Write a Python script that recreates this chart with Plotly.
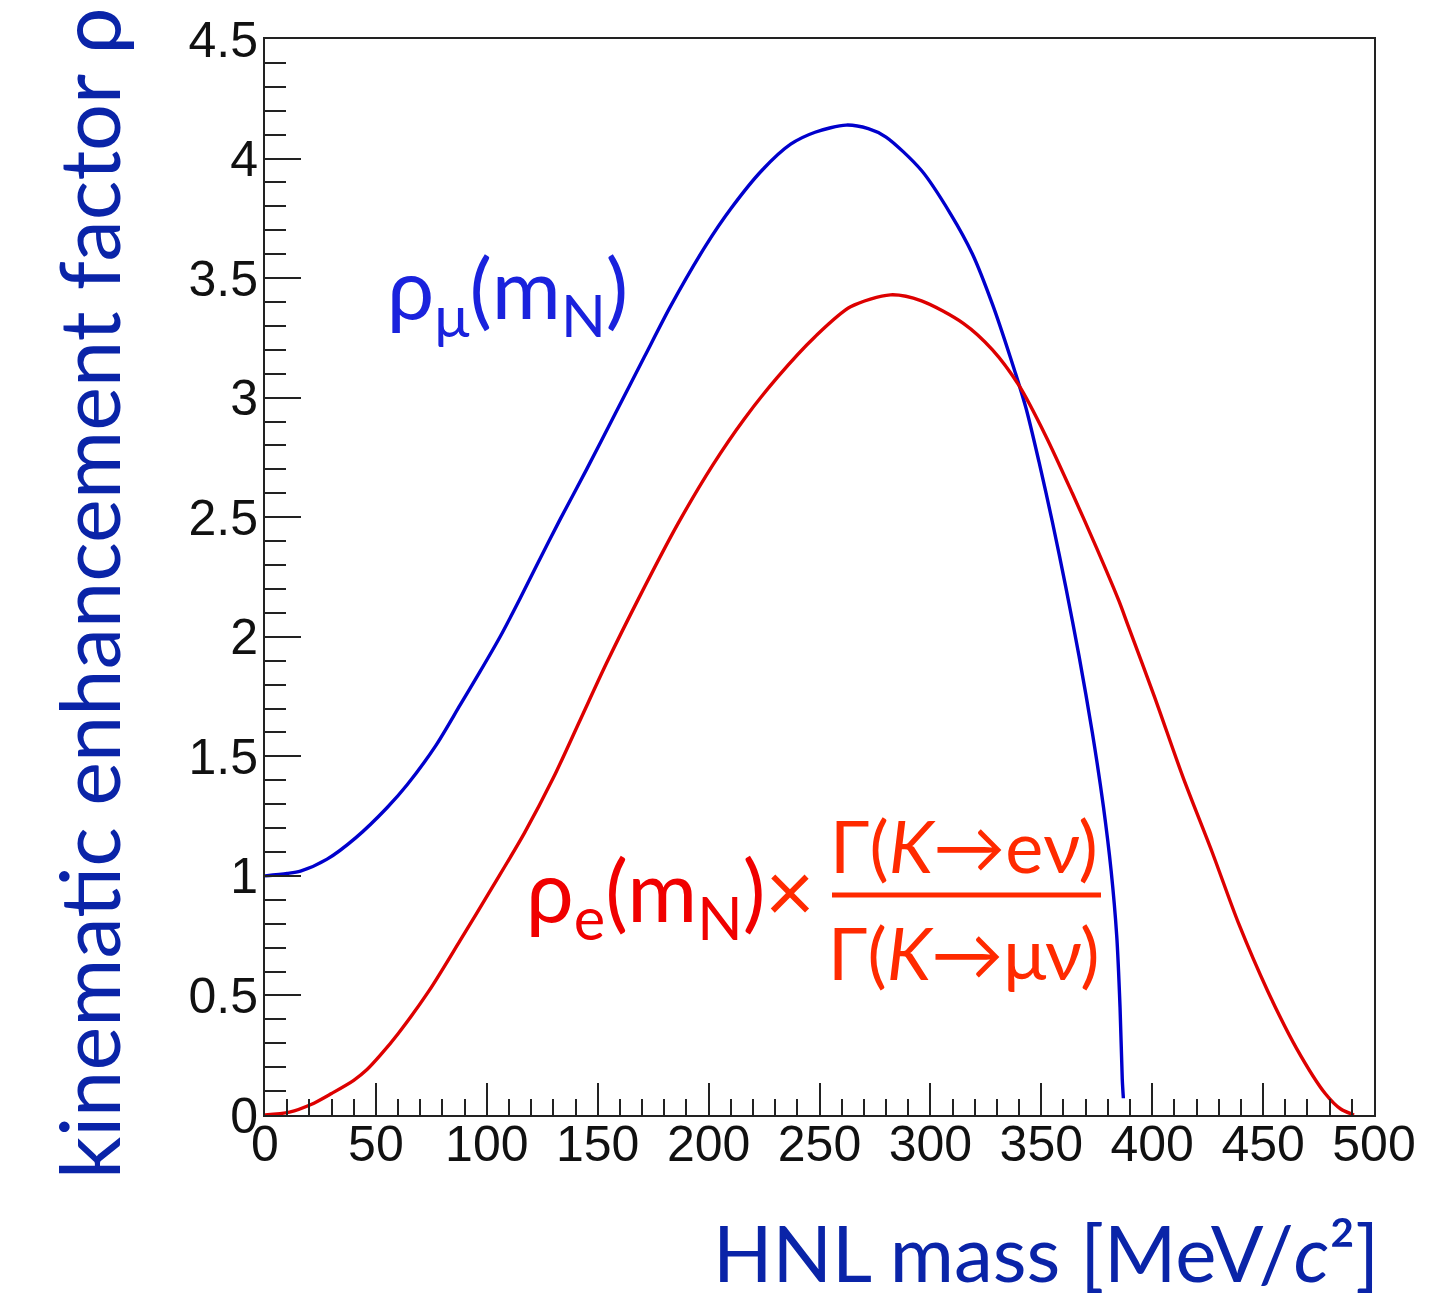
import plotly.graph_objects as go

# ---------------- data ----------------
mu_mass = [0, 10, 16, 28, 41, 55, 64, 77, 88, 97, 106, 115, 122, 133, 145, 158,
           171, 183, 199, 210, 224, 237, 248, 262, 272, 280, 296, 309, 319, 328,
           336, 343, 349, 355, 361, 367, 373, 378, 381.5, 384, 385.5, 386.5, 387]
mu_rho = [1.00, 1.01, 1.02, 1.07, 1.16, 1.285, 1.38, 1.545, 1.715, 1.855, 2.00,
          2.16, 2.29, 2.49, 2.70, 2.935, 3.17, 3.385, 3.64, 3.79, 3.95, 4.06,
          4.11, 4.14, 4.125, 4.09, 3.95, 3.77, 3.60, 3.39, 3.17, 2.96, 2.73,
          2.48, 2.21, 1.92, 1.60, 1.29, 1.02, 0.75, 0.45, 0.15, 0.07]

e_mass = [0, 11, 21, 30, 40, 46, 52, 60, 74, 88, 103, 117, 130, 142, 154, 169,
          186, 202, 216, 231, 248, 264, 282, 296, 315, 328, 340, 352, 364, 375,
          385, 389, 401, 414, 427, 439, 452, 465, 478, 485, 491]
e_rho = [0.0, 0.012, 0.045, 0.09, 0.145, 0.19, 0.25, 0.34, 0.52, 0.73, 0.96,
         1.18, 1.41, 1.65, 1.89, 2.17, 2.47, 2.72, 2.91, 3.085, 3.255, 3.38, 3.43,
         3.405, 3.31, 3.20, 3.05, 2.84, 2.60, 2.37, 2.15, 2.05, 1.75, 1.41, 1.10,
         0.80, 0.52, 0.28, 0.09, 0.025, 0.0]

x_tick_vals = [0, 50, 100, 150, 200, 250, 300, 350, 400, 450, 500]
x_tick_text = ["0", "50", "100", "150", "200", "250", "300", "350", "400", "450", "500"]
y_tick_vals = [0, 0.5, 1, 1.5, 2, 2.5, 3, 3.5, 4, 4.5]
y_tick_text = ["0", "0.5", "1", "1.5", "2", "2.5", "3", "3.5", "4", "4.5"]

x_title = "HNL mass [MeV/<i>c</i>²]"
y_title = "kinematic enhancement factor ρ"
mu_label = "ρ<sub>μ</sub>(m<sub>N</sub>)"
e_label = "ρ<sub>e</sub>(m<sub>N</sub>)<span style='color:#ff2a00'>×</span>"
num_label = "Γ(<i>K</i>→eν)"
den_label = "Γ(<i>K</i>→μν)"

# ---------------- layout geometry ----------------
W, H = 1456, 1303
L, R, T, B = 265, 1374, 39, 1115


def px(xp):
    return (xp - L) / (R - L)


def py(yp):
    return (B - yp) / (B - T)


fig = go.Figure()
fig.add_trace(go.Scatter(x=mu_mass, y=mu_rho, mode="lines",
                         line=dict(color="#0000cc", width=3.4, shape="spline", smoothing=0.8),
                         showlegend=False))
fig.add_trace(go.Scatter(x=e_mass, y=e_rho, mode="lines",
                         line=dict(color="#dd0000", width=3.4, shape="spline", smoothing=0.8),
                         showlegend=False))

tickfont = dict(family="Liberation Sans, Arial, sans-serif", size=50, color="#111111")

fig.update_xaxes(range=[0, 500], tickvals=x_tick_vals, ticktext=x_tick_text,
                 ticks="inside", ticklen=32, tickwidth=2, tickcolor="#222",
                 showline=True, linecolor="#222", linewidth=2, mirror=True,
                 showgrid=False, zeroline=False, tickfont=tickfont,
                 ticklabelstandoff=-16,
                 minor=dict(dtick=10, tick0=0, ticks="inside", ticklen=16,
                            tickwidth=2, tickcolor="#222", showgrid=False))
fig.update_yaxes(range=[0, 4.5], tickvals=y_tick_vals, ticktext=y_tick_text,
                 ticks="inside", ticklen=36, tickwidth=2, tickcolor="#222",
                 showline=True, linecolor="#222", linewidth=2, mirror=True,
                 showgrid=False, zeroline=False, tickfont=tickfont,
                 ticklabelstandoff=-5,
                 minor=dict(dtick=0.1, tick0=0, ticks="inside", ticklen=21,
                            tickwidth=2, tickcolor="#222", showgrid=False))

ann = []
ann.append(dict(text=x_title, x=px(1381), y=py(1252), xref="paper", yref="paper",
                xanchor="right", yanchor="middle", showarrow=False,
                font=dict(family="Lato, Noto Sans, sans-serif", size=78, color="#0a24a8")))
ann.append(dict(text=y_title, x=px(88), y=py(593), xref="paper", yref="paper",
                xanchor="center", yanchor="middle", textangle=-90, showarrow=False,
                font=dict(family="Lato, Noto Sans, sans-serif", size=83, color="#0a24a8")))
ann.append(dict(text=mu_label, x=px(385), y=py(293), xref="paper", yref="paper",
                xanchor="left", yanchor="middle", showarrow=False,
                font=dict(family="Lato, Noto Sans, sans-serif", size=84, color="#1a22dd")))
ann.append(dict(text=e_label, x=px(524), y=py(895), xref="paper", yref="paper",
                xanchor="left", yanchor="middle", showarrow=False,
                font=dict(family="Lato, Noto Sans, sans-serif", size=85, color="#f00000")))
ann.append(dict(text=num_label, x=px(964), y=py(845), xref="paper", yref="paper",
                xanchor="center", yanchor="middle", showarrow=False,
                font=dict(family="Lato, Noto Sans, sans-serif", size=72, color="#ff2a00")))
ann.append(dict(text=den_label, x=px(964), y=py(952), xref="paper", yref="paper",
                xanchor="center", yanchor="middle", showarrow=False,
                font=dict(family="Lato, Noto Sans, sans-serif", size=72, color="#ff2a00")))

fig.update_layout(
    width=W, height=H, autosize=False,
    margin=dict(l=L, r=W - R, t=T, b=H - B, pad=0),
    paper_bgcolor="white", plot_bgcolor="white",
    annotations=ann,
    shapes=[dict(type="line", xref="paper", yref="paper",
                 x0=px(832), x1=px(1101), y0=py(895), y1=py(895),
                 line=dict(color="#ff2a00", width=5))],
)

fig.write_html("out.html")
